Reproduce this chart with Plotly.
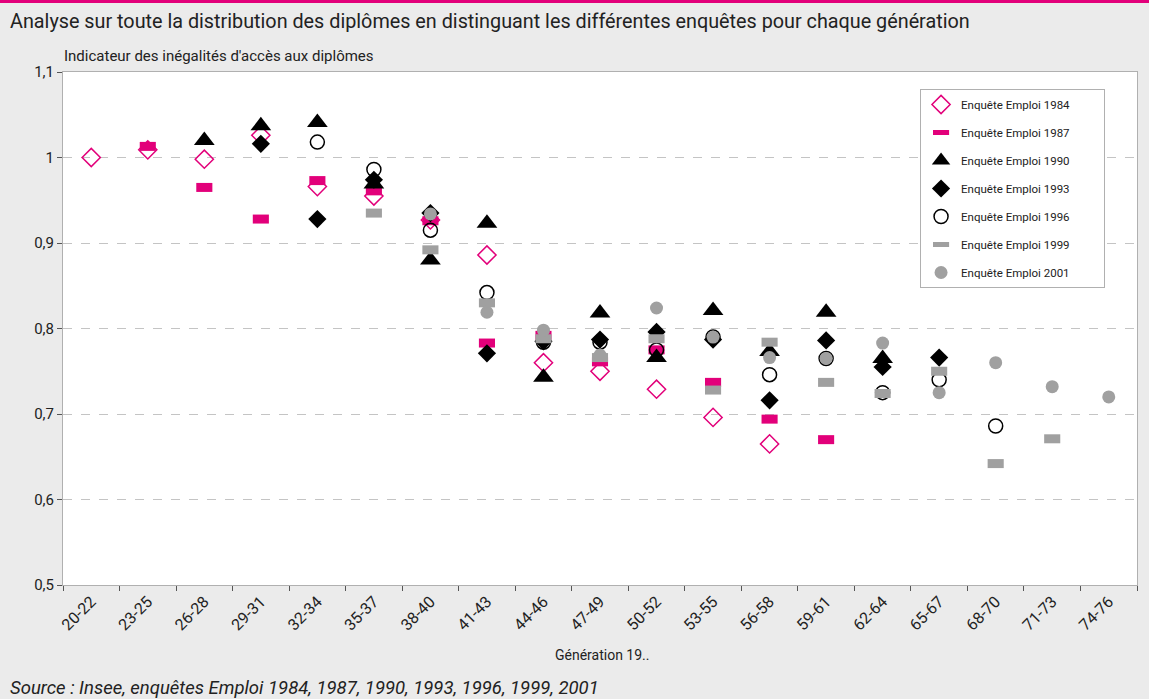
import plotly.graph_objects as go

categories = ["20-22", "23-25", "26-28", "29-31", "32-34", "35-37", "38-40", "41-43", "44-46",
              "47-49", "50-52", "53-55", "56-58", "59-61", "62-64", "65-67", "68-70", "71-73", "74-76"]

s1984 = [1.000, 1.009, 0.998, 1.026, 0.966, 0.955, 0.927, 0.886, 0.760, 0.750, 0.729, 0.696, 0.665]
s1987 = [1.013, 0.965, 0.928, 0.973, 0.961, 0.926, 0.783, 0.792, 0.761, 0.775, 0.737, 0.694, 0.670]
s1990 = [1.020, 1.037, 1.041, 0.969, 0.880, 0.923, 0.743, 0.818, 0.766, 0.821, 0.773, 0.819, 0.765]
s1993 = [1.016, 0.928, 0.974, 0.935, 0.771, 0.785, 0.787, 0.796, 0.787, 0.716, 0.786, 0.755, 0.766]
s1996 = [1.018, 0.986, 0.915, 0.842, 0.784, 0.784, 0.775, 0.790, 0.746, 0.765, 0.725, 0.740, 0.686]
s1999 = [0.935, 0.892, 0.830, 0.788, 0.766, 0.788, 0.728, 0.784, 0.737, 0.724, 0.750, 0.642, 0.671]
s2001 = [0.934, 0.819, 0.798, 0.769, 0.824, 0.790, 0.766, 0.765, 0.783, 0.725, 0.760, 0.732, 0.720]

names = ["Enquête Emploi 1984", "Enquête Emploi 1987", "Enquête Emploi 1990", "Enquête Emploi 1993",
         "Enquête Emploi 1996", "Enquête Emploi 1999", "Enquête Emploi 2001"]
series = [s1984, s1987, s1990, s1993, s1996, s1999, s2001]
offsets = [0, 1, 2, 3, 4, 5, 6]

PINK = "#e2007a"
GREY = "#a0a0a0"
markers = [
    dict(symbol="diamond-open", size=14, color=PINK, line=dict(color=PINK, width=1.5)),
    dict(symbol="line-ew", size=11.5, color=PINK, line=dict(color=PINK, width=9)),
    dict(symbol="triangle-up", size=18, color="black", line=dict(width=0)),
    dict(symbol="diamond", size=14, color="black", line=dict(width=0)),
    dict(symbol="circle-open", size=14, color="black", line=dict(color="black", width=1.5)),
    dict(symbol="line-ew", size=11.5, color=GREY, line=dict(color=GREY, width=9)),
    dict(symbol="circle", size=13, color=GREY, line=dict(width=0)),
]

FONT = "Roboto, Arial, sans-serif"
PAD = "\u00a0" * 10

fig = go.Figure()
for name, vals, off, mk in zip(names, series, offsets, markers):
    fig.add_trace(go.Scatter(
        x=categories[off:off + len(vals)], y=vals, mode="markers", name=name + PAD,
        marker=mk, legendgroup=name, showlegend=True,
    ))

fig.update_layout(
    width=1149, height=699,
    margin=dict(l=63, r=12, t=72, b=114),
    paper_bgcolor="#ebebeb", plot_bgcolor="white",
    separators=", ",
    font=dict(family=FONT, size=13, color="#222"),
    showlegend=True,
    legend=dict(x=0.798, y=(585 - 89) / 513, xanchor="left", yanchor="top",
                bgcolor="white", bordercolor="#b0b0b0", borderwidth=1,
                font=dict(family=FONT, size=11.5, color="#222"),
                tracegroupgap=9, itemwidth=30),
    xaxis=dict(type="category", categoryorder="array", categoryarray=categories,
               tickson="boundaries", ticks="outside", ticklen=5, tickcolor="#555",
               tickangle=-45, showgrid=False, showline=True, linecolor="#b0b0b0",
               mirror=True, tickfont=dict(family=FONT, size=16),
               range=[-0.5, len(categories) - 0.5]),
    yaxis=dict(range=[0.5, 1.1], tickvals=[0.5, 0.6, 0.7, 0.8, 0.9, 1.0, 1.1],
               ticks="outside", ticklen=5, tickcolor="#555", showline=True, linecolor="#b0b0b0",
               mirror=True, showgrid=True, gridcolor="#c4c4c4", griddash="dash", gridwidth=1,
               zeroline=False, tickfont=dict(family=FONT, size=15)),
    shapes=[dict(type="rect", xref="paper", yref="paper", x0=-0.07, x1=1.02,
                 y0=(585 - 3) / 513, y1=(585 + 2) / 513 + 0.02, fillcolor=PINK, line=dict(width=0))],
    annotations=[
        dict(text="Analyse sur toute la distribution des diplômes en distinguant les différentes enquêtes pour chaque génération",
             xref="paper", yref="paper", x=(8 - 63) / 1074, y=(585 - 22) / 513, xanchor="left", yanchor="middle",
             showarrow=False, font=dict(family=FONT, size=19.8, color="#222")),
        dict(text="Indicateur des inégalités d'accès aux diplômes",
             xref="paper", yref="paper", x=(62 - 63) / 1074, y=(585 - 56) / 513, xanchor="left", yanchor="middle",
             showarrow=False, font=dict(family=FONT, size=15, color="#222")),
        dict(text="Génération 19..",
             xref="paper", yref="paper", x=(602 - 63) / 1074, y=(585 - 655) / 513, xanchor="center", yanchor="middle",
             showarrow=False, font=dict(family=FONT, size=14, color="#222")),
        dict(text="<i>Source : Insee, enquêtes Emploi 1984, 1987, 1990, 1993, 1996, 1999, 2001</i>",
             xref="paper", yref="paper", x=(8 - 63) / 1074, y=(585 - 688) / 513, xanchor="left", yanchor="middle",
             showarrow=False, font=dict(family=FONT, size=18.5, color="#222")),
    ],
)

fig.write_html("out.html", config={"displayModeBar": False},
               post_script="document.body.style.margin='0';document.body.style.overflow='hidden';")
